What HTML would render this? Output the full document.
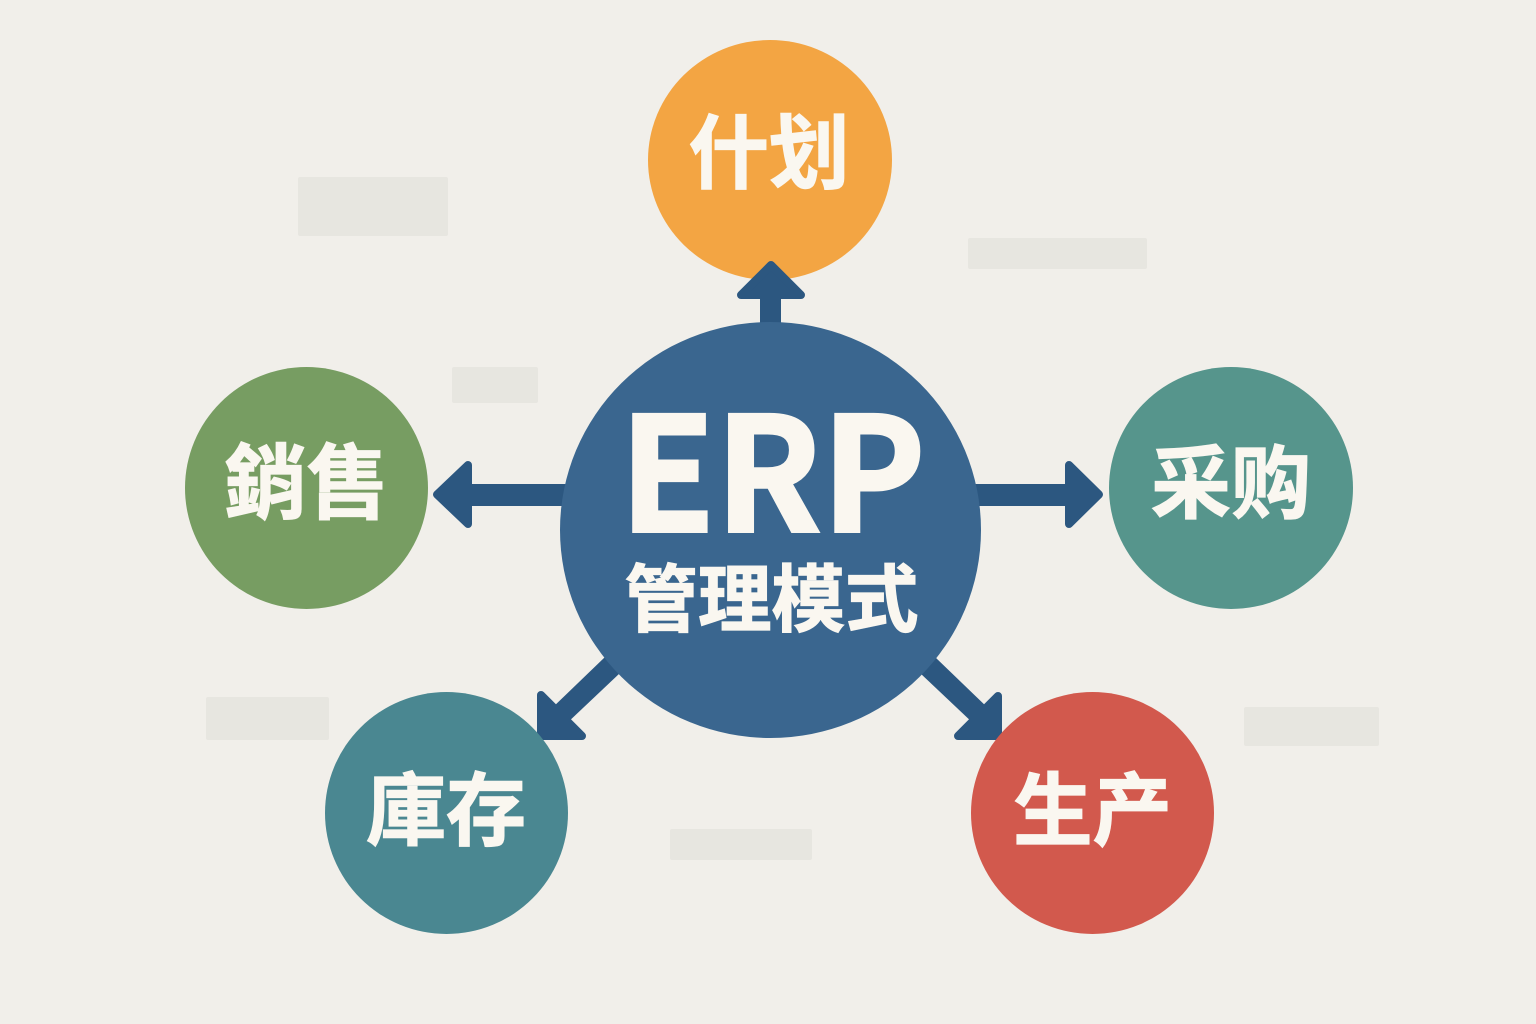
<!DOCTYPE html>
<html><head><meta charset="utf-8"><style>html,body{margin:0;padding:0;background:#f1efea}svg{display:block}
text{font-family:"Noto Sans CJK SC","Noto Sans CJK JP","Liberation Sans",sans-serif;font-weight:700;fill:#faf7f0;text-anchor:middle}
.t{stroke:#faf7f0;stroke-width:1.2px}
.e{stroke:#faf7f0;stroke-width:3px}</style></head>
<body>
<svg width="1536" height="1024" viewBox="0 0 1536 1024" xmlns="http://www.w3.org/2000/svg">
<rect width="1536" height="1024" fill="#f1efea"/>
<g fill="#e7e6e0">
<rect x="298" y="177" width="150" height="59" rx="2"/>
<rect x="968" y="238" width="179" height="31" rx="2"/>
<rect x="452" y="367" width="86" height="36" rx="2"/>
<rect x="206" y="697" width="123" height="43" rx="2"/>
<rect x="1244" y="707" width="135" height="39" rx="2"/>
<rect x="670" y="829" width="142" height="31" rx="2"/>
</g>
<ellipse cx="770" cy="160" rx="122" ry="120" fill="#f3a543"/>
<ellipse cx="306.500" cy="488" rx="121.500" ry="121" fill="#779d62"/>
<ellipse cx="1231" cy="488" rx="122" ry="121" fill="#56958c"/>
<g fill="#2c5780" stroke="#2c5780" stroke-linejoin="round">
<rect x="760" y="290" width="21" height="40" stroke="none"/>
<polygon points="771,265 801,295 741,295" stroke-width="8"/>
<rect x="460" y="484" width="110" height="22" stroke="none"/>
<polygon points="437,494.500 468,465 468,524" stroke-width="8"/>
<rect x="970" y="484" width="106" height="22" stroke="none"/>
<polygon points="1099,494.500 1069,465 1069,524" stroke-width="8"/>
<polygon points="605,657 620,673 565,725 550,710" stroke="none"/>
<polygon points="541,695 541,736 582,736" stroke-width="8"/>
<polygon points="935,657 920,673 975,725 990,710" stroke="none"/>
<polygon points="998,696 998,736 958,736" stroke-width="8"/>
</g>
<ellipse cx="446.500" cy="813" rx="121.500" ry="121" fill="#4a8791"/>
<ellipse cx="1092.500" cy="813" rx="121.500" ry="121" fill="#d2594d"/>
<ellipse cx="770.500" cy="530" rx="210.500" ry="208" fill="#3a668f"/>
<text class="e" x="772.500" y="531.500" font-size="158" textLength="306" lengthAdjust="spacingAndGlyphs">ERP</text>
<text class="t" x="771.500" y="625.500" font-size="73.500">管理模式</text>
<text class="t" x="769" y="182" font-size="80.500">什划</text>
<text class="t" x="306.500" y="512" font-size="82" lang="zh-TW" style='font-family:"Noto Sans CJK TC","Noto Sans CJK SC",sans-serif'>銷售</text>
<text class="t" x="1231" y="512" font-size="80">采购</text>
<text class="t" x="446" y="839" font-size="80" lang="zh-TW" style='font-family:"Noto Sans CJK TC","Noto Sans CJK SC",sans-serif'>庫存</text>
<text class="t" x="1092.500" y="839" font-size="79.500">生产</text>
</svg>
</body></html>
